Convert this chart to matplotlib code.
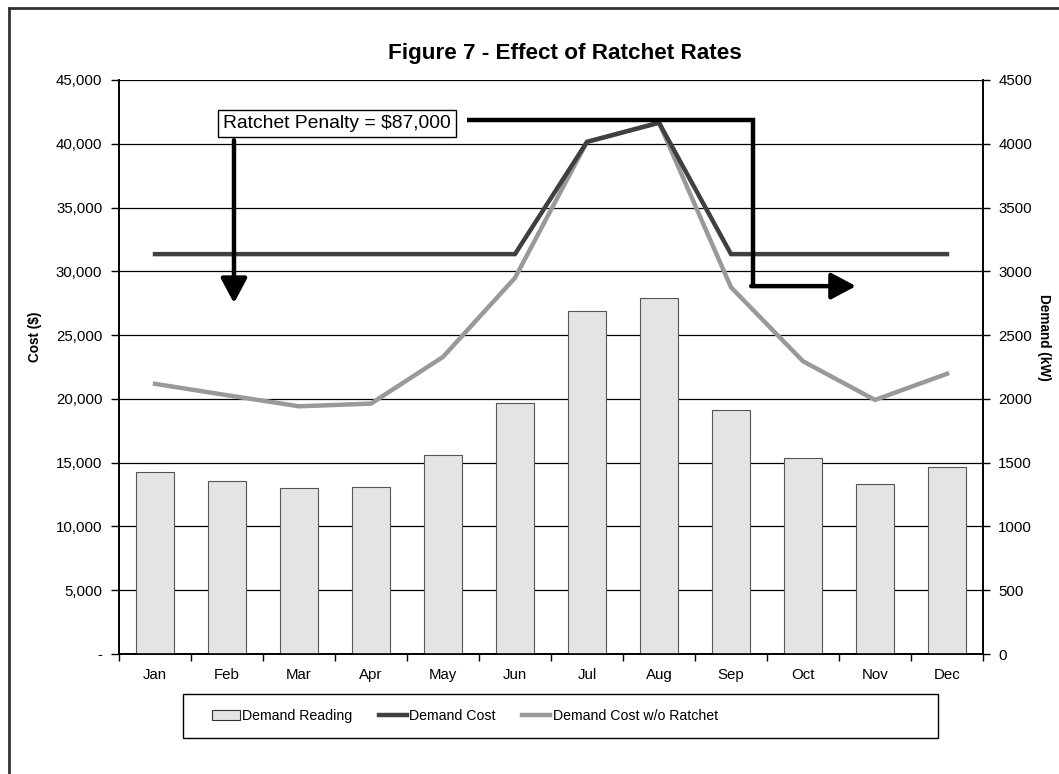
import matplotlib
matplotlib.use("Agg")
import matplotlib.pyplot as plt
from matplotlib.ticker import FixedLocator, FuncFormatter
from matplotlib.lines import Line2D
from matplotlib.patches import Patch, Rectangle

plt.rcParams['font.family'] = ['Liberation Sans', 'DejaVu Sans']

months = ["Jan", "Feb", "Mar", "Apr", "May", "Jun", "Jul", "Aug", "Sep", "Oct", "Nov", "Dec"]
demand_kw = [1426, 1355, 1300, 1313, 1558, 1968, 2687, 2792, 1916, 1534, 1332, 1463]
demand_cost = [31350, 31350, 31350, 31350, 31350, 31350, 40150, 41650, 31350, 31350, 31350, 31350]
cost_no_ratchet = [21180, 20290, 19420, 19630, 23290, 29490, 40150, 41650, 28750, 22950, 19920, 21970]
cost_ticks = [0, 5000, 10000, 15000, 20000, 25000, 30000, 35000, 40000, 45000]
kw_ticks = [0, 500, 1000, 1500, 2000, 2500, 3000, 3500, 4000, 4500]
penalty_text = "Ratchet Penalty = $87,000"

W, H = 1059, 774
fig = plt.figure(figsize=(W / 100, H / 100), dpi=100)
fig.patch.set_facecolor('white')

L, R, T, B = 119, 983, 80, 654
ax2 = fig.add_axes([L / W, 1 - B / H, (R - L) / W, (B - T) / H])
ax = ax2.twinx()
ax.yaxis.tick_left()
ax.yaxis.set_label_position('left')
ax2.yaxis.tick_right()
ax.patch.set_visible(False)

x = list(range(len(months)))

# Bars (kW, right axis)
ax2.bar(x, demand_kw, width=0.52, color='#e4e4e4', edgecolor='#555555', linewidth=0.8, zorder=3)
ax2.set_ylim(0, 4500)
ax2.set_xlim(-0.5, 11.5)
ax2.yaxis.set_major_locator(FixedLocator(kw_ticks))
ax2.yaxis.set_major_formatter(FuncFormatter(lambda v, p: f"{int(v)}"))
ax2.grid(axis='y', color='black', linewidth=0.9, zorder=0)
ax2.set_axisbelow(True)

# Lines (cost, left axis)
ax.plot(x, cost_no_ratchet, color='#999999', linewidth=3.2, zorder=4, solid_joinstyle='miter')
ax.plot(x, demand_cost, color='#404040', linewidth=3.2, zorder=5, solid_joinstyle='miter')
ax.set_ylim(0, 45000)
ax.set_xlim(-0.5, 11.5)
ax.yaxis.set_major_locator(FixedLocator(cost_ticks))
ax.yaxis.set_major_formatter(FuncFormatter(lambda v, p: "-" if v == 0 else f"{int(v):,}"))

# x ticks: marks at boundaries, labels at centers
ax2.xaxis.set_major_locator(FixedLocator([i - 0.5 for i in range(13)]))
ax2.xaxis.set_major_formatter(FuncFormatter(lambda v, p: ""))
ax2.xaxis.set_minor_locator(FixedLocator(x))
ax2.set_xticklabels(months, minor=True)
ax2.tick_params(axis='x', which='major', direction='out', length=5, width=1, color='black')
ax2.tick_params(axis='x', which='minor', length=0, pad=10, labelsize=10.8)
ax.tick_params(axis='x', which='both', bottom=False, top=False, labelbottom=False)

ax.tick_params(axis='y', direction='out', length=6, width=1, labelsize=10.8, pad=6)
ax2.tick_params(axis='y', direction='out', length=5, width=1, labelsize=10.8, pad=6)

for a in (ax, ax2):
    a.spines['top'].set_visible(False)
    for s in ('left', 'right', 'bottom'):
        a.spines[s].set_color('black')
        a.spines[s].set_linewidth(1.2)

# Ratchet annotation
ax.plot([4.329, 8.301, 8.301], [41850, 41850, 28840], color='black', linewidth=3.2,
        solid_joinstyle='miter', solid_capstyle='butt', zorder=6)
ax.annotate('', xy=(9.736, 28840), xytext=(8.28, 28840),
            arrowprops=dict(arrowstyle='-|>,head_length=1.5,head_width=0.8', mutation_scale=10,
                            lw=3.2, color='black', shrinkA=0, shrinkB=0), zorder=6)
ax.annotate('', xy=(1.097, 27508), xytext=(1.097, 40282),
            arrowprops=dict(arrowstyle='-|>,head_length=1.5,head_width=0.8', mutation_scale=10,
                            lw=3.2, color='black', shrinkA=0, shrinkB=0), zorder=6)
fig.text(337 / W, 1 - 123.5 / H, penalty_text, ha='center', va='center', fontsize=13.9,
         bbox=dict(boxstyle='square,pad=0.25', facecolor='white', edgecolor='black', linewidth=1), zorder=10)

# Title and axis labels
fig.text(564.5 / W, 1 - 53 / H, "Figure 7 - Effect of Ratchet Rates", ha='center', va='center',
         fontsize=16.2, fontweight='bold')
fig.text(35 / W, 1 - 337 / H, "Cost ($)", rotation=90, ha='center', va='center', fontsize=9.8, fontweight='bold')
fig.text(1044 / W, 1 - 337 / H, "Demand (kW)", rotation=270, ha='center', va='center', fontsize=9.8, fontweight='bold')

# Legend
handles = [Patch(facecolor='#e4e4e4', edgecolor='#333333', linewidth=0.8),
           Line2D([0], [0], color='#404040', linewidth=3.2),
           Line2D([0], [0], color='#999999', linewidth=3.2)]
labels = ["Demand Reading", "Demand Cost", "Demand Cost w/o Ratchet"]
leg = fig.legend(handles, labels, loc='center left', ncol=3,
                 bbox_to_anchor=(212 / W, 1 - 716 / H), fontsize=10.2, frameon=False,
                 handlelength=2.0, handleheight=0.65, handletextpad=0.15, columnspacing=1.85,
                 borderpad=0, borderaxespad=0)
fig.add_artist(Rectangle((183 / W, 1 - 738 / H), (938 - 183) / W, 44 / H, transform=fig.transFigure,
                         facecolor='none', edgecolor='black', linewidth=1))

# Outer border (left and top)
fig.add_artist(Line2D([9 / W, 9 / W], [0, 1 - 8 / H], transform=fig.transFigure, color='#333333', linewidth=2))
fig.add_artist(Line2D([9 / W, 1], [1 - 8 / H, 1 - 8 / H], transform=fig.transFigure, color='#333333', linewidth=2))

fig.savefig("out.png", dpi=100)
